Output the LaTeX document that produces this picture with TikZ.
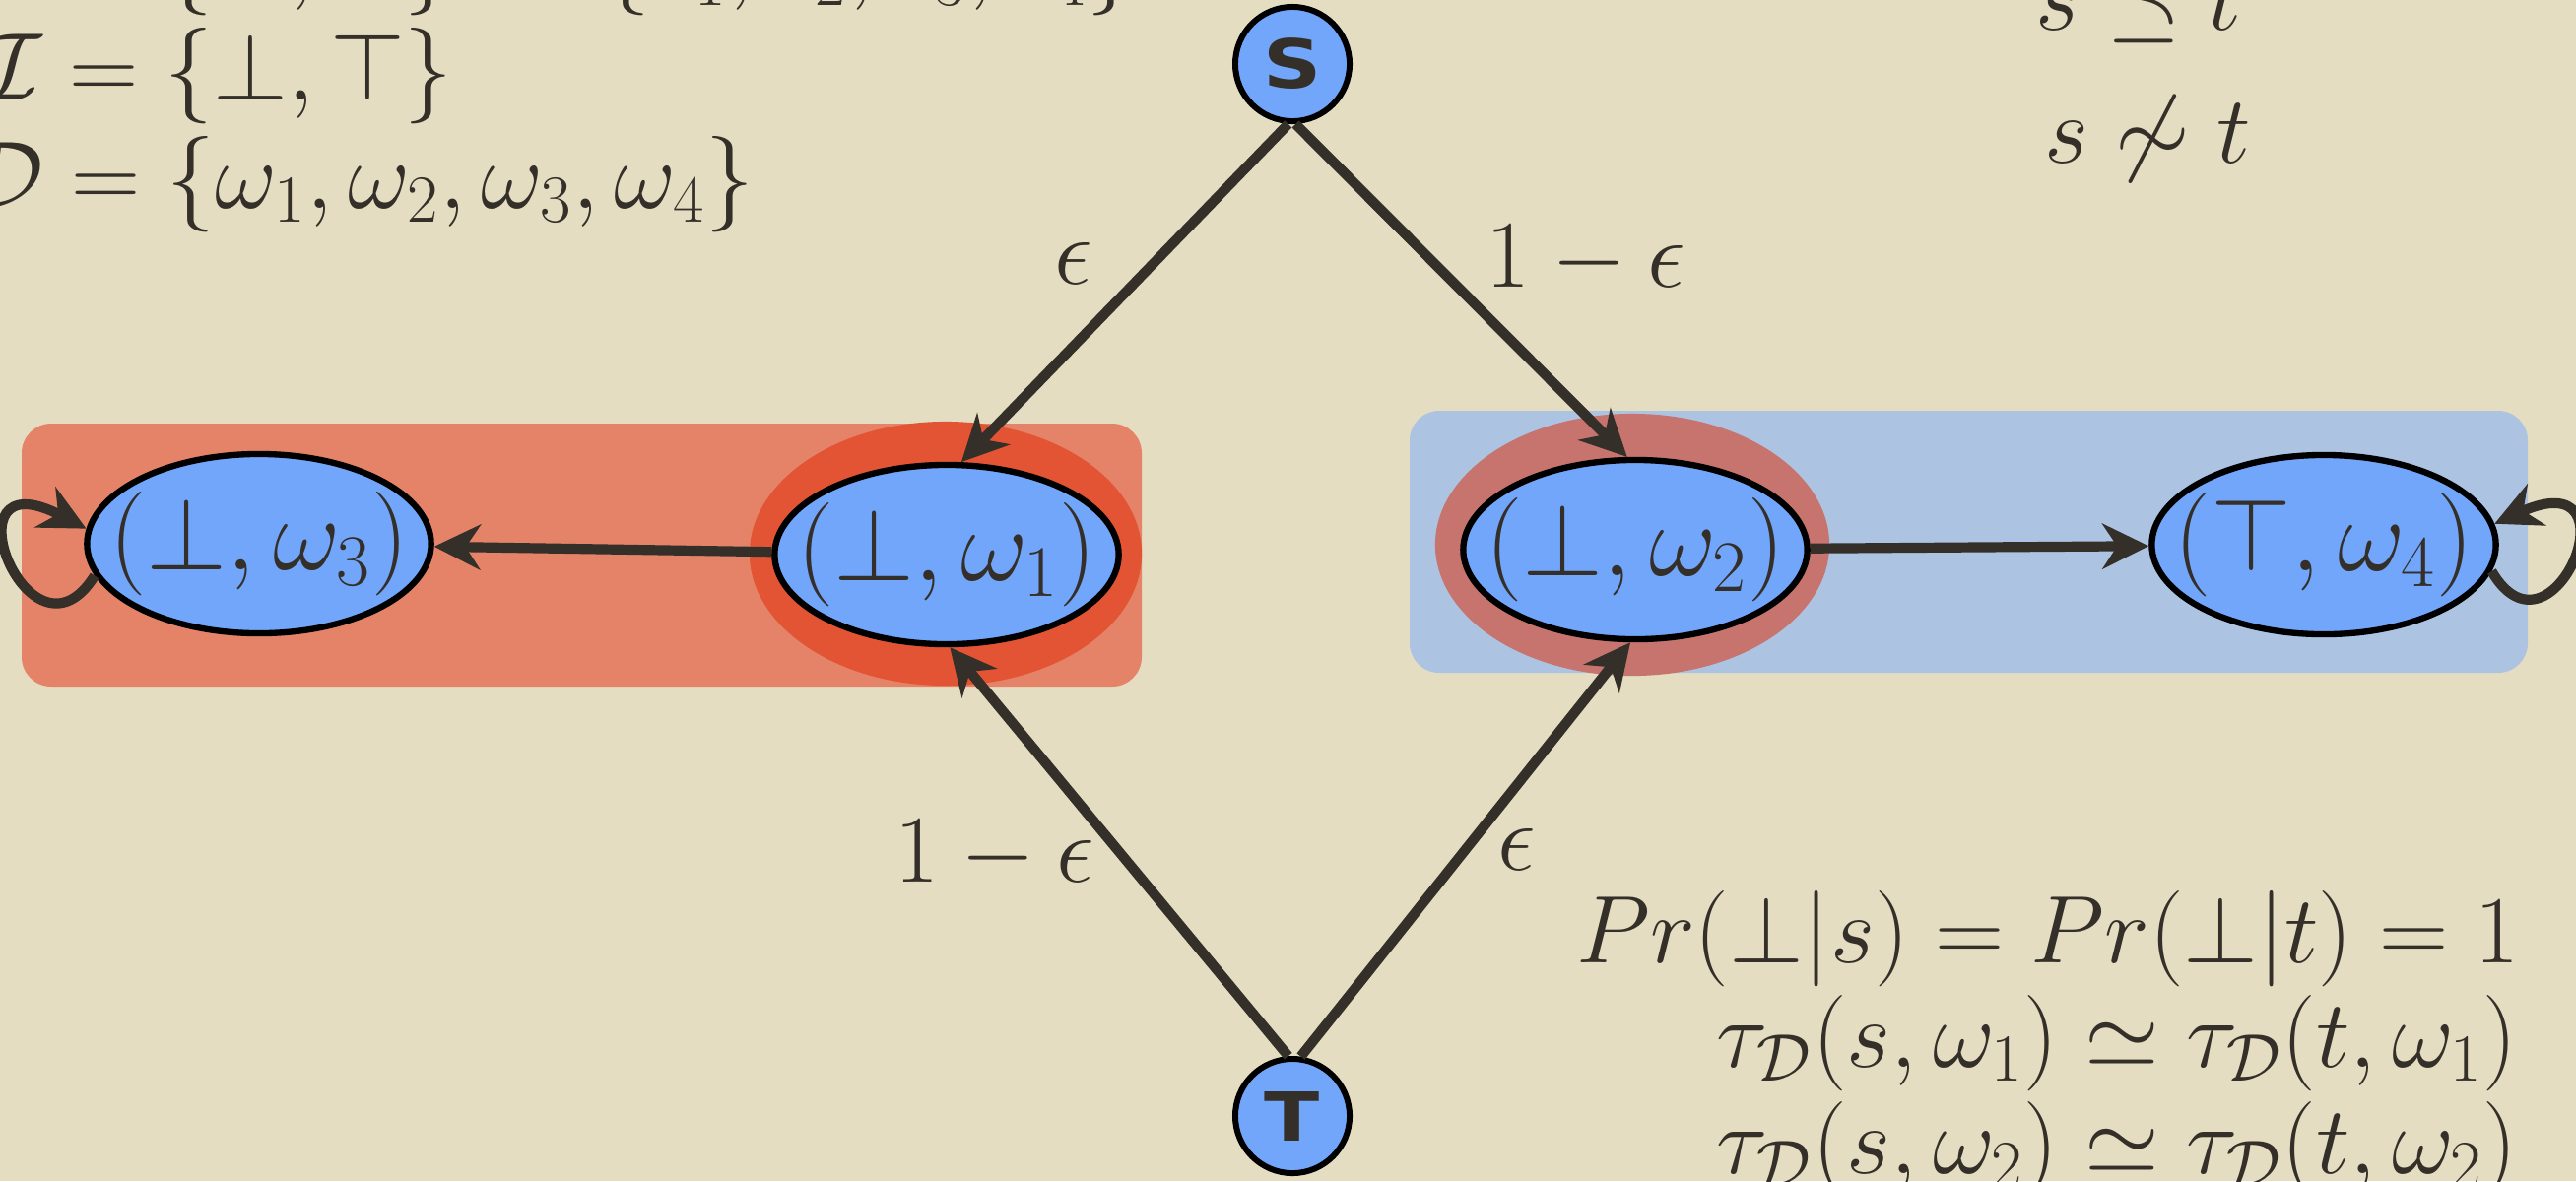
\RequirePackage{fix-cm}
\documentclass[tikz,border=0pt]{standalone}
\usepackage{fontspec}
\usepackage{amsmath}
\newfontfamily\stfont{DejaVu Sans}[FakeStretch=1.2]
\usetikzlibrary{shapes.geometric,arrows.meta}
\definecolor{bg}{HTML}{E4DDC2}
\definecolor{ink}{HTML}{342F28}
\definecolor{nodeblue}{HTML}{72A6FB}
\definecolor{redbox}{HTML}{E58369}
\definecolor{bluebox}{HTML}{ACC4E2}
\definecolor{haloA}{HTML}{E25434}
\definecolor{haloB}{HTML}{C8746E}
\tikzset{
  stnode/.style={ellipse, draw=black, line width=1.8pt, fill=nodeblue, minimum width=3.38cm, minimum height=1.82cm, inner xsep=-0.28cm, inner ysep=0.1cm, text=ink, font=\fontsize{30}{34}\selectfont},
  termnode/.style={circle, draw=black, line width=1.7pt, fill=nodeblue, minimum size=1.16cm, inner sep=0pt, text=ink, font=\stfont\bfseries\fontsize{19.5}{20}\selectfont},
  edgearrow/.style={draw=ink, line width=2.9pt, -{Stealth[length=0.47cm,width=0.46cm,inset=0.15cm]}},
  txt/.style={inner sep=0pt, text=ink}
}
\begin{document}
\begin{tikzpicture}[x=0.01cm,y=-0.01cm,font=\fontsize{27.7}{33}\selectfont]
\useasboundingbox (0,0) rectangle (2615,1199);
\clip (0,0) rectangle (2615,1199);
\fill[bg] (0,0) rectangle (2615,1199);
% group boxes
\fill[redbox, rounded corners=0.3cm] (22,430) rectangle (1159,697);
\fill[bluebox, rounded corners=0.3cm] (1431,417) rectangle (2566,683);
\fill[haloA] (960,562) ellipse [x radius=1.99cm, y radius=1.34cm];
\fill[haloB] (1657,553) ellipse [x radius=2.0cm, y radius=1.33cm];
% nodes
\node[termnode] (S) at (1312,65) {S};
\node[termnode] (T) at (1312,1133) {T};
\node[stnode] (w3) at (263,552) {$(\bot,\omega_3)$};
\node[stnode] (w1) at (961,563) {$(\bot,\omega_1)$};
\node[stnode] (w2) at (1660,558) {$(\bot,\omega_2)$};
\node[stnode] (w4) at (2359,553) {$(\top,\omega_4)$};
% edges
\draw[edgearrow] (S.-94) -- (w1.81);
\draw[edgearrow] (S.-87) -- (w2.95);
\draw[edgearrow] (T.94) -- (w1.-88);
\draw[edgearrow] (T.82) -- (w2.-93);
\draw[edgearrow] (w1) -- (w3);
\draw[edgearrow] (w2) -- (w4);
\draw[edgearrow] (w3.191) .. controls (30,690) and (-60,460) .. (w3.175);
\draw[edgearrow] (w4.-9) .. controls (2591,685) and (2681,465) .. (w4.7);
% edge labels
\node[txt, anchor=base] (l1) at (1090,288) {$\epsilon$};
\node[txt, anchor=base] (l2) at (1610,291) {$1-\epsilon$};
\node[txt, anchor=base] (l3) at (1010,895) {$1-\epsilon$};
\node[txt, anchor=base] (l4) at (1540,883) {$\epsilon$};
% top-left definitions
\node[txt, anchor=base east] (s0) at (43,-9) {$\mathcal{S}$};
\node[txt, anchor=base west] (s0r) at (43,-9) {${}=\{\bot,\top\}\to\{o_1,o_2,o_3,o_4\}$};
\node[txt, anchor=base east] (s1) at (43,101) {$\mathcal{I}$};
\node[txt, anchor=base west] (s1r) at (43,101) {${}=\{\bot,\top\}$};
\node[txt, anchor=base east] (s2) at (45,211) {$\mathcal{D}$};
\node[txt, anchor=base west] (s2r) at (45,211) {${}=\{\omega_1,\omega_2,\omega_3,\omega_4\}$};
% top-right relations
\node[txt, anchor=base west] (r1) at (2066,30) {$s\preceq t$};
\node[txt, anchor=base west] (r2) at (2075,165) {$s\not\sim t$};
% bottom-right equations
\node[txt, anchor=base east] (e1) at (2558,977) {$Pr(\bot|s)=Pr(\bot|t)=1$};
\node[txt, anchor=base east] (e2) at (2556,1083) {$\tau_{\mathcal{D}}(s,\omega_1)\simeq\tau_{\mathcal{D}}(t,\omega_1)$};
\node[txt, anchor=base east] (e3) at (2556,1191) {$\tau_{\mathcal{D}}(s,\omega_2)\simeq\tau_{\mathcal{D}}(t,\omega_2)$};
\end{tikzpicture}
\end{document}
